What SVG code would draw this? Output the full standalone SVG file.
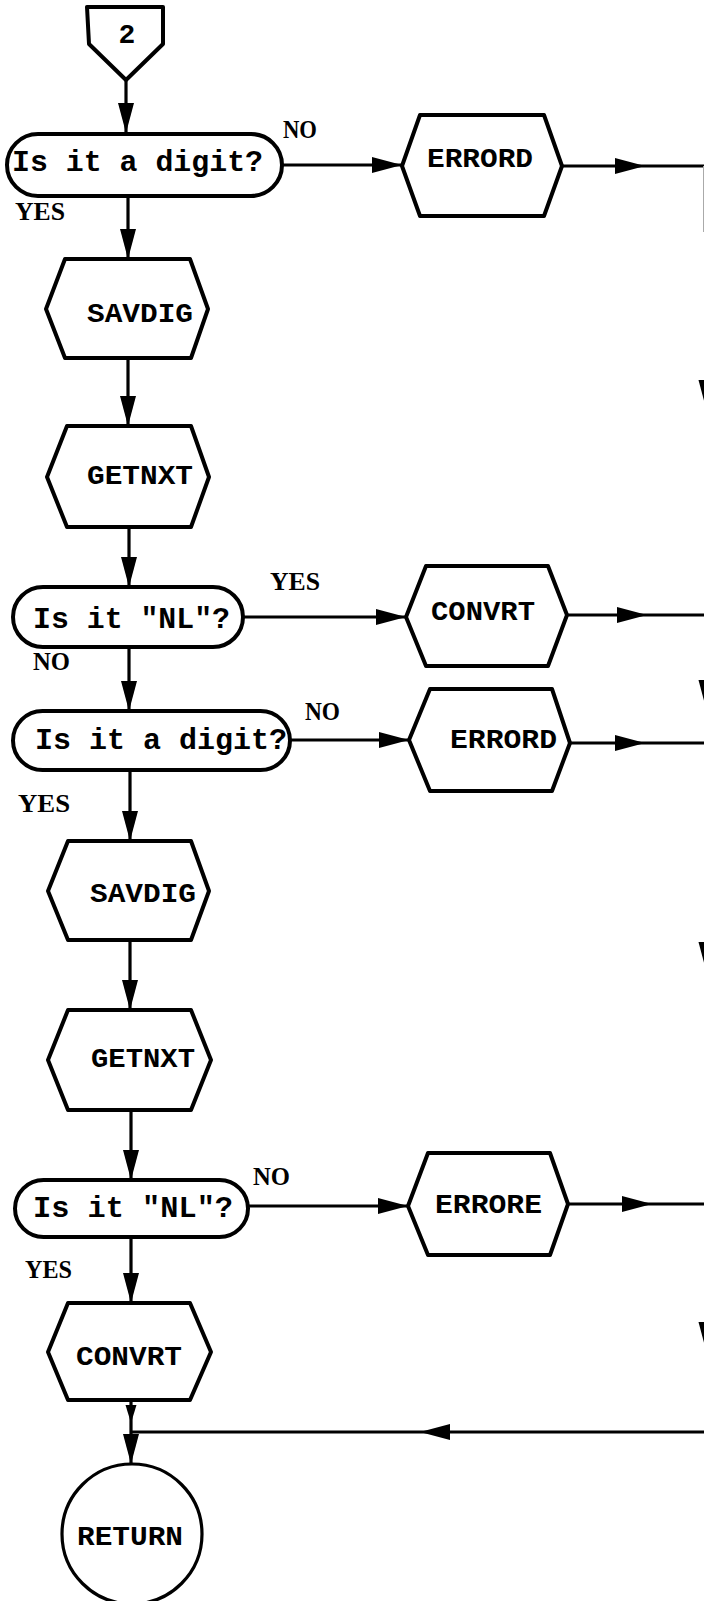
<svg xmlns="http://www.w3.org/2000/svg" width="704" height="1601" viewBox="0 0 704 1601">
<style>
.shape{fill:#fff;stroke:#000;stroke-width:4;stroke-linejoin:round}
.circ{fill:#fff;stroke:#000;stroke-width:3.2}
.ln{fill:none;stroke:#000;stroke-width:3.2}
.nm{font-family:"Liberation Mono",monospace;font-weight:bold;font-size:28px;fill:#000}
.q{font-family:"Liberation Mono",monospace;font-weight:bold;font-size:29px;fill:#000}
.lb{font-family:"Liberation Serif",serif;font-weight:bold;font-size:25px;fill:#000}
</style>
<defs>
<marker id="ah" viewBox="0 0 30 18" refX="30" refY="9" markerWidth="30" markerHeight="18" markerUnits="userSpaceOnUse" orient="auto"><path d="M0,1 L30,9 L0,17 Z" fill="#000"/></marker>
<marker id="ahs" viewBox="0 0 18 13" refX="18" refY="6.5" markerWidth="18" markerHeight="13" markerUnits="userSpaceOnUse" orient="auto"><path d="M0,1 L18,6.5 L0,12 Z" fill="#000"/></marker>
</defs>
<g id="connectors">
<path class="ln" d="M126 80 V133" marker-end="url(#ah)"/>
<path class="ln" d="M282 165 H402" marker-end="url(#ah)"/>
<path class="ln" d="M562 166 L645 166 L708 166" marker-mid="url(#ah)"/>
<path class="ln" d="M128 195 V259" marker-end="url(#ah)"/>
<path class="ln" d="M128 358 V426" marker-end="url(#ah)"/>
<path class="ln" d="M129 527 V587" marker-end="url(#ah)"/>
<path class="ln" d="M243 617 H406" marker-end="url(#ah)"/>
<path class="ln" d="M567 615 L647 615 L708 615" marker-mid="url(#ah)"/>
<path class="ln" d="M129 647 V711" marker-end="url(#ah)"/>
<path class="ln" d="M290 740 H409" marker-end="url(#ah)"/>
<path class="ln" d="M570 743 L645 743 L708 743" marker-mid="url(#ah)"/>
<path class="ln" d="M130 770 V841" marker-end="url(#ah)"/>
<path class="ln" d="M130 940 V1010" marker-end="url(#ah)"/>
<path class="ln" d="M131 1110 V1180" marker-end="url(#ah)"/>
<path class="ln" d="M248 1206 H408" marker-end="url(#ah)"/>
<path class="ln" d="M568 1204 L652 1204 L708 1204" marker-mid="url(#ah)"/>
<path class="ln" d="M131 1237 V1303" marker-end="url(#ah)"/>
<path class="ln" d="M131 1400 V1423" marker-end="url(#ahs)"/>
<path class="ln" d="M131 1423 V1464" marker-end="url(#ah)"/>
<path class="ln" d="M706.5 166 L706.5 410 L706.5 710 L706.5 972 L706.5 1352 L706.5 1432 L420 1432 L131 1432" marker-mid="url(#ah)"/>
<line x1="703.5" y1="166" x2="703.5" y2="232" stroke="#aaa" stroke-width="1"/>
</g>
<g id="n_off2">
<polygon class="shape" points="87,7 163,7 163,44 126,80 89,44"/>
<text class="nm" x="127" y="43" text-anchor="middle">2</text>
</g>
<g id="n_dec1">
<rect class="shape" x="7" y="134" width="275" height="62" rx="31"/>
<text class="q" x="12" y="171" textLength="251" lengthAdjust="spacingAndGlyphs">Is it a digit?</text>
</g>
<g id="n_errord1">
<polygon class="shape" points="402,166 420,115 544,115 562,166 544,216 420,216"/>
<text class="nm" x="427" y="167" textLength="106" lengthAdjust="spacingAndGlyphs">ERRORD</text>
</g>
<g id="n_savdig1">
<polygon class="shape" points="46,309 65,259 190,259 208,309 191,358 65,358"/>
<text class="nm" x="87" y="322" textLength="106" lengthAdjust="spacingAndGlyphs">SAVDIG</text>
</g>
<g id="n_getnxt1">
<polygon class="shape" points="47,477 67,426 191,426 209,477 191,527 67,527"/>
<text class="nm" x="87" y="484" textLength="106" lengthAdjust="spacingAndGlyphs">GETNXT</text>
</g>
<g id="n_dec2">
<rect class="shape" x="13" y="587" width="230" height="60" rx="30"/>
<text class="q" x="33" y="628" textLength="197" lengthAdjust="spacingAndGlyphs">Is it "NL"?</text>
</g>
<g id="n_convrt1">
<polygon class="shape" points="406,617 426,566 548,566 567,615 548,666 426,666"/>
<text class="nm" x="431" y="620" textLength="104" lengthAdjust="spacingAndGlyphs">CONVRT</text>
</g>
<g id="n_dec3">
<rect class="shape" x="13" y="711" width="277" height="59" rx="29.5"/>
<text class="q" x="35" y="749" textLength="252" lengthAdjust="spacingAndGlyphs">Is it a digit?</text>
</g>
<g id="n_errord2">
<polygon class="shape" points="409,740 430,689 552,689 570,743 552,791 430,791"/>
<text class="nm" x="450" y="748" textLength="107" lengthAdjust="spacingAndGlyphs">ERRORD</text>
</g>
<g id="n_savdig2">
<polygon class="shape" points="48,891 68,841 191,841 209,891 191,940 68,940"/>
<text class="nm" x="90" y="902" textLength="106" lengthAdjust="spacingAndGlyphs">SAVDIG</text>
</g>
<g id="n_getnxt2">
<polygon class="shape" points="48,1060 68,1010 191,1010 211,1060 191,1110 68,1110"/>
<text class="nm" x="91" y="1067" textLength="104" lengthAdjust="spacingAndGlyphs">GETNXT</text>
</g>
<g id="n_dec4">
<rect class="shape" x="15" y="1180" width="233" height="57" rx="28.5"/>
<text class="q" x="33" y="1217" textLength="200" lengthAdjust="spacingAndGlyphs">Is it "NL"?</text>
</g>
<g id="n_errore">
<polygon class="shape" points="408,1206 428,1153 550,1153 568,1204 550,1255 428,1255"/>
<text class="nm" x="435" y="1213" textLength="107" lengthAdjust="spacingAndGlyphs">ERRORE</text>
</g>
<g id="n_convrt2">
<polygon class="shape" points="48,1352 68,1303 190,1303 211,1352 190,1400 68,1400"/>
<text class="nm" x="76" y="1365" textLength="106" lengthAdjust="spacingAndGlyphs">CONVRT</text>
</g>
<g id="n_return">
<circle class="circ" cx="132" cy="1534" r="70"/>
<text class="nm" x="77" y="1545" textLength="106" lengthAdjust="spacingAndGlyphs">RETURN</text>
</g>
<g id="labels">
<text class="lb" x="283" y="138" textLength="34" lengthAdjust="spacingAndGlyphs">NO</text>
<text class="lb" x="15" y="220" textLength="50" lengthAdjust="spacingAndGlyphs">YES</text>
<text class="lb" x="270" y="590" textLength="50" lengthAdjust="spacingAndGlyphs">YES</text>
<text class="lb" x="33" y="670" textLength="37" lengthAdjust="spacingAndGlyphs">NO</text>
<text class="lb" x="305" y="720" textLength="35" lengthAdjust="spacingAndGlyphs">NO</text>
<text class="lb" x="18" y="812" textLength="52" lengthAdjust="spacingAndGlyphs">YES</text>
<text class="lb" x="253" y="1185" textLength="37" lengthAdjust="spacingAndGlyphs">NO</text>
<text class="lb" x="25" y="1278" textLength="47" lengthAdjust="spacingAndGlyphs">YES</text>
</g>
</svg>
